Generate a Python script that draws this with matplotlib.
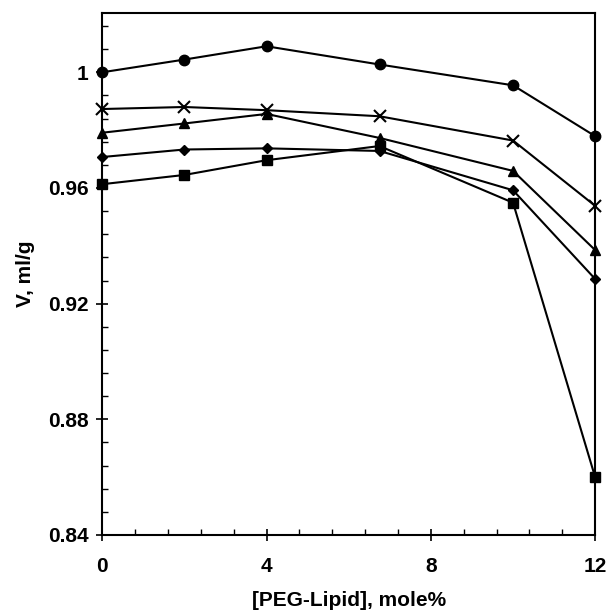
import numpy as np
from matplotlib import pyplot as plt
from matplotlib import ticker

peg = [0, 2, 4, 6.75, 10, 12]
circles = [1.0000, 1.0044, 1.0090, 1.0027, 0.9955, 0.9779]
crosses = [0.9873, 0.9880, 0.9869, 0.9848, 0.9764, 0.9538]
triangles = [0.9791, 0.9823, 0.9856, 0.9773, 0.9659, 0.9385]
diamonds = [0.9707, 0.9733, 0.9737, 0.9728, 0.9592, 0.9285]
squares = [0.9613, 0.9645, 0.9696, 0.9745, 0.9549, 0.8599]


def main():
    plt.rcParams['font.family'] = ['Liberation Sans', 'DejaVu Sans']
    plt.rcParams['font.weight'] = 'bold'
    fig = plt.figure(figsize=(6.08, 6.11), dpi=100)
    ax = fig.add_axes([0.168, 0.1244, 0.811, 0.8543])

    kw = dict(color='black', linewidth=1.5, clip_on=False, zorder=3)
    ax.plot(peg, squares, marker='s', markersize=7.5, **kw)
    ax.plot(peg, diamonds, marker='D', markersize=5.5, **kw)
    ax.plot(peg, triangles, marker='^', markersize=7.5, **kw)
    ax.plot(peg, crosses, marker='x', markersize=8.5, markeredgewidth=1.5,
            markerfacecolor='white', **kw)
    ax.plot(peg, circles, marker='o', markersize=7.5, **kw)

    ax.set_xlim(0, 12)
    ax.set_ylim(0.84, 1.0205)
    ax.xaxis.set_major_locator(ticker.FixedLocator([0, 4, 8, 12]))
    ax.xaxis.set_minor_locator(ticker.MultipleLocator(0.8))
    ax.yaxis.set_major_locator(ticker.FixedLocator([0.84, 0.88, 0.92, 0.96, 1.0]))
    ax.yaxis.set_minor_locator(ticker.MultipleLocator(0.008))
    ax.yaxis.set_major_formatter(ticker.FuncFormatter(
        lambda v, p: '1' if abs(v - 1) < 1e-9 else '%.2f' % v))

    ax.tick_params(which='major', direction='inout', length=8, width=1.2,
                   labelsize=15, pad=6)
    ax.tick_params(which='minor', direction='in', length=4, width=1.0)
    ax.tick_params(axis='x', pad=12)
    for s in ax.spines.values():
        s.set_linewidth(1.5)

    ax.set_xlabel('[PEG-Lipid], mole%', fontsize=15, fontweight='bold', labelpad=11)
    ax.set_ylabel('V, ml/g', fontsize=15, fontweight='bold', labelpad=9)

    fig.savefig('out.png', dpi=100)


main()
